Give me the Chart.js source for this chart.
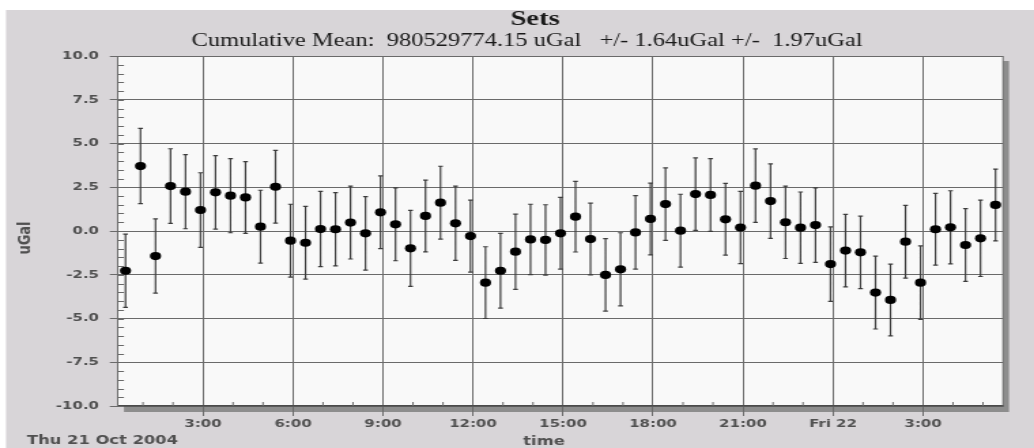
<!DOCTYPE html>
<html>
<head>
<meta charset="utf-8">
<script src="https://cdn.jsdelivr.net/npm/chart.js@4.4.0/dist/chart.umd.min.js"></script>
<style>
html,body{margin:0;padding:0;background:#fff;overflow:hidden;width:1034px;height:448px;}
#wrap{position:absolute;left:0;top:0;width:760px;height:448px;transform:scaleX(1.36053);transform-origin:0 0;}
</style>
</head>
<body>
<div id="wrap"><canvas id="c"></canvas></div>
<script>
// ---- data ----
const times = ['00:25','00:55','01:25','01:55','02:25','02:55','03:25','03:55','04:25','04:55',
  '05:25','05:55','06:25','06:55','07:25','07:55','08:25','08:55','09:25','09:55',
  '10:25','10:55','11:25','11:55','12:25','12:55','13:25','13:55','14:25','14:55',
  '15:25','15:55','16:25','16:55','17:25','17:55','18:25','18:55','19:25','19:55',
  '20:25','20:55','21:25','21:55','22:25','22:55','23:25','23:55',
  '00:25','00:55','01:25','01:55','02:25','02:55','03:25','03:55','04:25','04:55','05:25'];
const values = [-2.27, 3.71, -1.43, 2.57, 2.25, 1.20, 2.21, 2.02, 1.92, 0.25,
  2.53, -0.55, -0.67, 0.11, 0.10, 0.48, -0.13, 1.07, 0.38, -0.99,
  0.86, 1.62, 0.44, -0.29, -2.95, -2.27, -1.18, -0.48, -0.51, -0.13,
  0.82, -0.46, -2.51, -2.19, -0.08, 0.69, 1.54, 0.02, 2.11, 2.06,
  0.67, 0.20, 2.59, 1.71, 0.50, 0.19, 0.34, -1.89, -1.12, -1.22,
  -3.52, -3.94, -0.61, -2.95, 0.10, 0.21, -0.80, -0.42, 1.49];
const errors = [2.09, 2.15, 2.12, 2.13, 2.12, 2.13, 2.10, 2.12, 2.05, 2.08,
  2.08, 2.08, 2.08, 2.15, 2.09, 2.08, 2.10, 2.08, 2.08, 2.17,
  2.05, 2.08, 2.12, 2.06, 2.05, 2.14, 2.15, 2.01, 2.01, 2.05,
  2.02, 2.05, 2.07, 2.09, 2.10, 2.05, 2.07, 2.08, 2.07, 2.08,
  2.05, 2.06, 2.10, 2.13, 2.07, 2.04, 2.13, 2.13, 2.07, 2.07,
  2.08, 2.05, 2.08, 2.10, 2.05, 2.09, 2.08, 2.18, 2.05];
const xTickHours = [3, 6, 9, 12, 15, 18, 21, 24, 27];
const xTickLabels = ['3:00', '6:00', '9:00', '12:00', '15:00', '18:00', '21:00', 'Fri 22', '3:00'];
const xRange = [0.1667, 29.6667];
const yRange = [-10, 10];
const yStep = 2.5;
const titleText = 'Sets';
const subtitleText = 'Cumulative Mean:  980529774.15 uGal   +/- 1.64uGal +/-  1.97uGal';
const yAxisTitle = 'uGal';
const xAxisTitle = 'time';
const dateLabel = 'Thu 21 Oct 2004';

// ---- convert times to hours since Thu 00:00 ----
let dayOffset = 0, prevH = -1;
const hours = times.map(t => {
  const [h, m] = t.split(':').map(Number);
  const v = h + m / 60;
  if (v < prevH) dayOffset += 24;
  prevH = v;
  return v + dayOffset;
});
const points = hours.map((x, i) => ({x: x, y: values[i]}));

const S = 1.36053; // horizontal stretch of the wrapper
const TICK_FONT = {family: 'DejaVu Sans', size: 11, weight: 'bold'};
const TICK_COLOR = '#505050';
const GRID = '#6a6a6a';

const bgPlugin = {
  id: 'bg',
  beforeDraw(chart) {
    const c = chart.ctx, a = chart.chartArea;
    c.save();
    c.fillStyle = '#ffffff';
    c.fillRect(0, 0, chart.width, chart.height);
    c.fillStyle = '#d8d5d8';
    c.fillRect(6 / S, 10, chart.width, chart.height);
    c.fillStyle = '#8d8d8d';
    c.fillRect(a.left + 6 / S, a.top + 5, a.right - a.left, a.bottom - a.top + 1);
    c.fillStyle = '#f9f9f9';
    c.fillRect(a.left, a.top, a.right - a.left, a.bottom - a.top);
    c.restore();
  }
};

const errPlugin = {
  id: 'errbars',
  beforeDatasetsDraw(chart) {
    const c = chart.ctx, xs = chart.scales.x, ys = chart.scales.y, a = chart.chartArea;
    c.save();
    // minor ticks on the y axis (inside the plot)
    c.strokeStyle = '#6a6a6a';
    c.lineWidth = 1;
    c.beginPath();
    for (let v = yRange[0]; v <= yRange[1] + 1e-9; v += yStep / 5) {
      const py = Math.round(ys.getPixelForValue(v)) + 0.5;
      c.moveTo(a.left, py); c.lineTo(a.left + 6 / S, py);
    }
    // minor ticks on the x axis (every hour)
    for (let h = Math.ceil(xRange[0]); h <= xRange[1]; h++) {
      if (xTickHours.includes(h)) continue;
      const px = xs.getPixelForValue(h);
      c.moveTo(px, a.bottom); c.lineTo(px, a.bottom - 4);
    }
    c.stroke();
    // right border
    c.beginPath();
    c.moveTo(a.right, a.top); c.lineTo(a.right, a.bottom);
    c.stroke();
    // error bars
    c.strokeStyle = '#3c3c3c';
    c.lineWidth = 1.2;
    const cap = 2.4 / S;
    c.beginPath();
    for (let i = 0; i < values.length; i++) {
      const px = xs.getPixelForValue(hours[i]);
      const yt = ys.getPixelForValue(values[i] + errors[i]);
      const yb = ys.getPixelForValue(values[i] - errors[i]);
      c.moveTo(px, yt); c.lineTo(px, yb);
      c.moveTo(px - cap, yt); c.lineTo(px + cap, yt);
      c.moveTo(px - cap, yb); c.lineTo(px + cap, yb);
    }
    c.stroke();
    c.restore();
  }
};

const textPlugin = {
  id: 'texts',
  afterDraw(chart) {
    const c = chart.ctx;
    c.save();
    c.fillStyle = '#1a1a1a';
    c.textAlign = 'center';
    c.textBaseline = 'middle';
    c.font = 'bold 21px "Liberation Serif"';
    c.fillText(titleText, 535 / S, 20);
    c.font = '18px "Liberation Serif"';
    c.fillText(subtitleText, 527 / S, 41);
    c.fillStyle = TICK_COLOR;
    c.font = 'bold 12px "DejaVu Sans"';
    c.textAlign = 'left';
    c.fillText(dateLabel, 27 / S, 441);
    c.textAlign = 'center';
    c.fillText(xAxisTitle, 544 / S, 442);
    c.translate(25 / S, 238);
    c.rotate(-Math.PI / 2);
    c.font = 'bold 13px "DejaVu Sans"';
    c.fillText(yAxisTitle, 0, 0);
    c.restore();
  }
};

new Chart(document.getElementById('c'), {
  type: 'scatter',
  data: {
    datasets: [{
      data: points,
      pointStyle: 'circle',
      pointRadius: 4.1,
      pointHoverRadius: 4.1,
      backgroundColor: '#000',
      borderColor: '#000',
      borderWidth: 0,
      showLine: false
    }]
  },
  options: {
    responsive: true,
    maintainAspectRatio: false,
    animation: false,
    devicePixelRatio: 1,
    events: [],
    layout: {padding: {left: 0, right: 760 - 1003 / S, top: 56, bottom: 0}},
    plugins: {legend: {display: false}, tooltip: {enabled: false}, title: {display: false}},
    scales: {
      x: {
        type: 'linear',
        min: xRange[0],
        max: xRange[1],
        afterFit(s) { s.height = 42; },
        afterBuildTicks(s) { s.ticks = xTickHours.map(v => ({value: v})); },
        ticks: {
          callback: (v) => xTickLabels[xTickHours.indexOf(v)],
          font: TICK_FONT, color: TICK_COLOR, padding: 2,
          maxRotation: 0, autoSkip: false
        },
        grid: {color: GRID, lineWidth: 1, tickLength: 10, drawTicks: true},
        border: {color: '#4a4a4a', width: 1.5}
      },
      y: {
        min: yRange[0],
        max: yRange[1],
        afterFit(s) { s.width = 118 / S; },
        ticks: {
          stepSize: yStep,
          callback: (v) => v.toFixed(1),
          font: TICK_FONT, color: TICK_COLOR, padding: 8
        },
        grid: {color: GRID, lineWidth: 1, tickLength: 6, drawTicks: true},
        border: {color: GRID, width: 1}
      }
    }
  },
  plugins: [bgPlugin, errPlugin, textPlugin]
});
</script>
</body>
</html>
